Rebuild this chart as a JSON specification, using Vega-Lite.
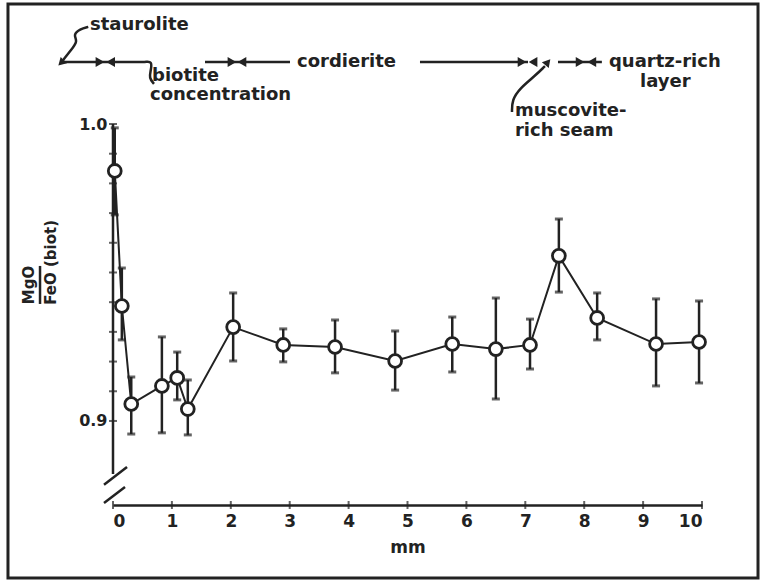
{
  "$schema": "https://vega.github.io/schema/vega-lite/v6.json",
  "width": 589,
  "height": 381,
  "autosize": {"type": "none"},
  "padding": {"left": 113, "top": 124, "right": 60, "bottom": 78},
  "background": "white",
  "config": {
    "view": {"stroke": null},
    "font": "DejaVu Sans",
    "axisX": {"domainColor": "#222", "domainWidth": 2.5, "ticks": false, "grid": false, "tickCount": 10,
      "labelFont": "DejaVu Sans", "labelFontWeight": "bold", "labelFontSize": 17, "labelColor": "#222", "labelPadding": 8,
      "titleFont": "DejaVu Sans", "titleFontWeight": "bold", "titleFontSize": 17, "titleColor": "#222", "titlePadding": 10},
    "axisY": {"domain": false, "ticks": false, "grid": false, "tickCount": 1,
      "labelFont": "DejaVu Sans", "labelFontWeight": "bold", "labelFontSize": 16, "labelColor": "#222", "labelPadding": 6}
  },
  "datasets": {
    "pts": [
      {"x": 0.03, "y": 0.9842, "lo": 0.9694, "hi": 0.9987},
      {"x": 0.15, "y": 0.9387, "lo": 0.9273, "hi": 0.9515},
      {"x": 0.31, "y": 0.9057, "lo": 0.8956, "hi": 0.9148},
      {"x": 0.83, "y": 0.9118, "lo": 0.8960, "hi": 0.9283},
      {"x": 1.09, "y": 0.9145, "lo": 0.9071, "hi": 0.9232},
      {"x": 1.27, "y": 0.9040, "lo": 0.8953, "hi": 0.9138},
      {"x": 2.04, "y": 0.9316, "lo": 0.9202, "hi": 0.9431},
      {"x": 2.89, "y": 0.9256, "lo": 0.9199, "hi": 0.9310},
      {"x": 3.77, "y": 0.9249, "lo": 0.9162, "hi": 0.9340},
      {"x": 4.79, "y": 0.9202, "lo": 0.9104, "hi": 0.9303},
      {"x": 5.76, "y": 0.9259, "lo": 0.9165, "hi": 0.9350},
      {"x": 6.50, "y": 0.9242, "lo": 0.9074, "hi": 0.9414},
      {"x": 7.08, "y": 0.9256, "lo": 0.9175, "hi": 0.9343},
      {"x": 7.57, "y": 0.9556, "lo": 0.9434, "hi": 0.9680},
      {"x": 8.22, "y": 0.9347, "lo": 0.9273, "hi": 0.9431},
      {"x": 9.22, "y": 0.9259, "lo": 0.9118, "hi": 0.9411},
      {"x": 9.95, "y": 0.9266, "lo": 0.9128, "hi": 0.9404}
    ],
    "yticks": [
      {"y": 0.90}, {"y": 0.91}, {"y": 0.92}, {"y": 0.93}, {"y": 0.94}, {"y": 0.95},
      {"y": 0.96}, {"y": 0.97}, {"y": 0.98}, {"y": 0.99}, {"y": 1.00}
    ],
    "xticks": [
      {"x": 0}, {"x": 1}, {"x": 2}, {"x": 3}, {"x": 4}, {"x": 5},
      {"x": 6}, {"x": 7}, {"x": 8}, {"x": 9}, {"x": 10}
    ],
    "segs": [
      {"x": 0, "x2": 0, "y": 1.0, "y2": 0.8821},
      {"x": -0.153, "x2": 0.238, "y": 0.8785, "y2": 0.8845},
      {"x": -0.153, "x2": 0.204, "y": 0.8724, "y2": 0.8778},
      {"x": -0.849, "x2": 0.543, "y": 1.0209, "y2": 1.0209},
      {"x": 1.562, "x2": 3.005, "y": 1.0209, "y2": 1.0209},
      {"x": 5.212, "x2": 7.046, "y": 1.0209, "y2": 1.0209},
      {"x": 7.555, "x2": 8.3, "y": 1.0209, "y2": 1.0209},
      {"x": -1.239, "x2": -1.239, "y": 0.9522, "y2": 0.9394}
    ],
    "heads": [
      {"x": -0.221, "y": 1.0209, "dir": "r"},
      {"x": -0.04, "y": 1.0209, "dir": "l"},
      {"x": 2.02, "y": 1.0209, "dir": "r"},
      {"x": 2.19, "y": 1.0209, "dir": "l"},
      {"x": 6.944, "y": 1.0209, "dir": "r"},
      {"x": 7.131, "y": 1.0209, "dir": "l"},
      {"x": 7.93, "y": 1.0209, "dir": "r"},
      {"x": 8.13, "y": 1.0209, "dir": "l"}
    ],
    "curves": [
      {"id": "s", "i": 0, "x": -0.42, "y": 1.0327},
      {"id": "s", "i": 1, "x": -0.56, "y": 1.032},
      {"id": "s", "i": 2, "x": -0.679, "y": 1.03},
      {"id": "s", "i": 3, "x": -0.594, "y": 1.0279},
      {"id": "s", "i": 4, "x": -0.713, "y": 1.0249},
      {"id": "s", "i": 5, "x": -0.849, "y": 1.0215},
      {"id": "b", "i": 0, "x": 0.543, "y": 1.0209},
      {"id": "b", "i": 1, "x": 0.662, "y": 1.0212},
      {"id": "b", "i": 2, "x": 0.645, "y": 1.0182},
      {"id": "b", "i": 3, "x": 0.611, "y": 1.0155},
      {"id": "b", "i": 4, "x": 0.696, "y": 1.0135},
      {"id": "m", "i": 0, "x": 6.774, "y": 1.004},
      {"id": "m", "i": 1, "x": 6.774, "y": 1.0081},
      {"id": "m", "i": 2, "x": 6.91, "y": 1.0121},
      {"id": "m", "i": 3, "x": 7.165, "y": 1.0162},
      {"id": "m", "i": 4, "x": 7.334, "y": 1.0195}
    ],
    "tips": [
      {"x": -0.866, "y": 1.0209, "ang": 225},
      {"x": 7.368, "y": 1.0205, "ang": 40}
    ],
    "notes": [
      {"x": -0.39, "y": 1.0333, "text": "staurolite"},
      {"x": 3.124, "y": 1.0209, "text": "cordierite"},
      {"x": 8.42, "y": 1.0209, "text": "quartz-rich"},
      {"x": 8.947, "y": 1.0141, "text": "layer"},
      {"x": 0.662, "y": 1.0162, "text": "biotite"},
      {"x": 0.628, "y": 1.0098, "text": "concentration"},
      {"x": 6.825, "y": 1.0043, "text": "muscovite-"},
      {"x": 6.825, "y": 0.9976, "text": "rich seam"}
    ],
    "ytitle": [
      {"x": -1.43, "y": 0.9458, "text": "MgO", "pos": "c"},
      {"x": -1.055, "y": 0.9391, "text": "FeO (biot)", "pos": "l"}
    ],
    "frame": [
      {"x": -1.783, "x2": 10.951, "y": 1.0404, "y2": 0.8471}
    ]
  },
  "layer": [
    {
      "data": {"name": "frame"},
      "mark": {"type": "rect", "filled": false, "stroke": "#222", "strokeWidth": 3},
      "encoding": {
        "x": {"field": "x", "type": "quantitative", "title": "mm", "scale": {"domain": [0, 10], "nice": false, "zero": false}},
        "x2": {"field": "x2"},
        "y": {"field": "y", "type": "quantitative", "title": null, "scale": {"domain": [0.8717, 1.0], "nice": false, "zero": false}},
        "y2": {"field": "y2"}
      }
    },
    {
      "data": {"name": "segs"},
      "mark": {"type": "rule", "stroke": "#222", "strokeWidth": 2.5},
      "encoding": {
        "x": {"field": "x", "type": "quantitative", "title": "mm"},
        "x2": {"field": "x2"},
        "y": {"field": "y", "type": "quantitative", "title": null},
        "y2": {"field": "y2"}
      }
    },
    {
      "data": {"name": "yticks"},
      "mark": {"type": "tick", "orient": "horizontal", "color": "#222", "size": 8, "thickness": 2},
      "encoding": {
        "x": {"datum": 0, "type": "quantitative", "title": "mm"},
        "y": {"field": "y", "type": "quantitative", "title": null}
      }
    },
    {
      "data": {"name": "xticks"},
      "mark": {"type": "tick", "orient": "vertical", "color": "#222", "size": 8, "thickness": 2},
      "encoding": {
        "x": {"field": "x", "type": "quantitative", "title": "mm"},
        "y": {"datum": 0.8717, "type": "quantitative", "title": null}
      }
    },
    {
      "data": {"name": "pts"},
      "mark": {"type": "rule", "stroke": "#222", "strokeWidth": 2.5},
      "encoding": {
        "x": {"field": "x", "type": "quantitative", "title": "mm"},
        "y": {"field": "lo", "type": "quantitative", "title": null},
        "y2": {"field": "hi"}
      }
    },
    {
      "data": {"name": "pts"},
      "mark": {"type": "tick", "orient": "horizontal", "color": "#222", "size": 8, "thickness": 3},
      "encoding": {
        "x": {"field": "x", "type": "quantitative", "title": "mm"},
        "y": {"field": "lo", "type": "quantitative", "title": null}
      }
    },
    {
      "data": {"name": "pts"},
      "mark": {"type": "tick", "orient": "horizontal", "color": "#222", "size": 8, "thickness": 3},
      "encoding": {
        "x": {"field": "x", "type": "quantitative", "title": "mm"},
        "y": {"field": "hi", "type": "quantitative", "title": null}
      }
    },
    {
      "data": {"name": "pts"},
      "mark": {"type": "line", "stroke": "#222", "strokeWidth": 2},
      "encoding": {
        "x": {"field": "x", "type": "quantitative", "title": "mm"},
        "y": {"field": "y", "type": "quantitative", "title": null},
        "order": {"field": "x", "type": "quantitative"}
      }
    },
    {
      "data": {"name": "pts"},
      "mark": {"type": "point", "shape": "circle", "filled": true, "fill": "white", "stroke": "#222", "strokeWidth": 2.8, "size": 165, "opacity": 1},
      "encoding": {
        "x": {"field": "x", "type": "quantitative", "title": "mm"},
        "y": {"field": "y", "type": "quantitative", "title": null}
      }
    },
    {
      "data": {"name": "curves"},
      "mark": {"type": "line", "stroke": "#222", "strokeWidth": 2.5, "interpolate": "basis"},
      "encoding": {
        "x": {"field": "x", "type": "quantitative", "title": "mm"},
        "y": {"field": "y", "type": "quantitative", "title": null},
        "detail": {"field": "id"},
        "order": {"field": "i", "type": "quantitative"}
      }
    },
    {
      "data": {"name": "heads"},
      "mark": {"type": "point", "filled": true, "color": "#222", "size": 100, "opacity": 1},
      "encoding": {
        "x": {"field": "x", "type": "quantitative", "title": "mm"},
        "y": {"field": "y", "type": "quantitative", "title": null},
        "shape": {"field": "dir", "type": "nominal", "scale": {"domain": ["r", "l"], "range": ["triangle-right", "triangle-left"]}, "legend": null}
      }
    },
    {
      "data": {"name": "tips"},
      "mark": {"type": "point", "shape": "triangle", "filled": true, "color": "#222", "size": 80, "opacity": 1},
      "encoding": {
        "x": {"field": "x", "type": "quantitative", "title": "mm"},
        "y": {"field": "y", "type": "quantitative", "title": null},
        "angle": {"field": "ang", "type": "quantitative", "scale": null}
      }
    },
    {
      "data": {"name": "notes"},
      "mark": {"type": "text", "align": "left", "baseline": "middle", "font": "DejaVu Sans", "fontWeight": "bold", "fontSize": 18, "color": "#222"},
      "encoding": {
        "x": {"field": "x", "type": "quantitative", "title": "mm"},
        "y": {"field": "y", "type": "quantitative", "title": null},
        "text": {"field": "text"}
      }
    },
    {
      "data": {"name": "ytitle"},
      "transform": [{"filter": "datum.pos == 'c'"}],
      "mark": {"type": "text", "align": "center", "baseline": "middle", "angle": 270, "font": "DejaVu Sans", "fontWeight": "bold", "fontSize": 15, "color": "#222"},
      "encoding": {
        "x": {"field": "x", "type": "quantitative", "title": "mm"},
        "y": {"field": "y", "type": "quantitative", "title": null},
        "text": {"field": "text"}
      }
    },
    {
      "data": {"name": "ytitle"},
      "transform": [{"filter": "datum.pos == 'l'"}],
      "mark": {"type": "text", "align": "left", "baseline": "middle", "angle": 270, "font": "DejaVu Sans", "fontWeight": "bold", "fontSize": 15, "color": "#222"},
      "encoding": {
        "x": {"field": "x", "type": "quantitative", "title": "mm"},
        "y": {"field": "y", "type": "quantitative", "title": null},
        "text": {"field": "text"}
      }
    }
  ]
}
